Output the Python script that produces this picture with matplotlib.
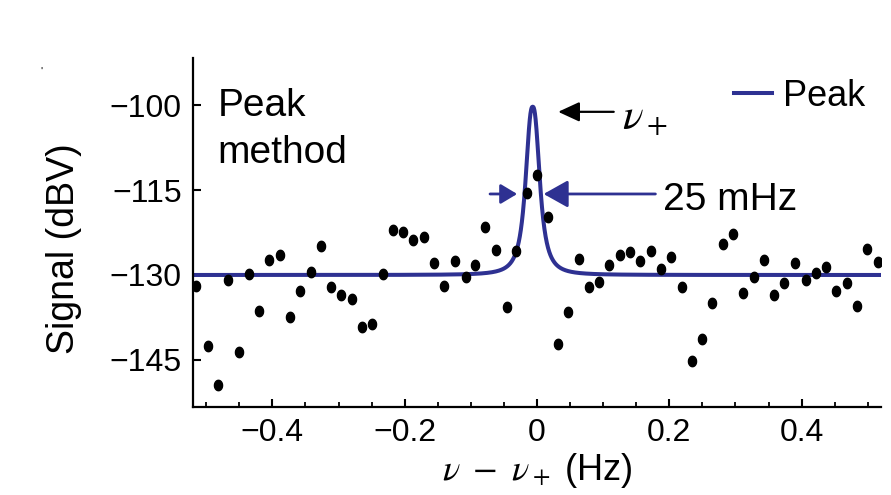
import numpy as np
import matplotlib
matplotlib.use("Agg")
import matplotlib.pyplot as plt
from matplotlib.path import Path

plt.rcParams['font.family'] = ['Liberation Sans', 'DejaVu Sans']
plt.rcParams['mathtext.fontset'] = 'stix'
plt.rcParams['axes.unicode_minus'] = True

# ---- data ----
freq_offset = [-0.516, -0.498, -0.482, -0.467, -0.451, -0.436, -0.420, -0.405, -0.389, -0.374,
               -0.358, -0.342, -0.327, -0.311, -0.296, -0.280, -0.265, -0.249, -0.233, -0.218,
               -0.202, -0.187, -0.171, -0.156, -0.140, -0.124, -0.108, -0.093, -0.078, -0.062,
               -0.046, -0.031, -0.015, 0.000, 0.016, 0.032, 0.047, 0.063, 0.079, 0.094,
               0.109, 0.125, 0.141, 0.156, 0.172, 0.188, 0.203, 0.219, 0.234, 0.250,
               0.265, 0.281, 0.296, 0.312, 0.328, 0.343, 0.359, 0.374, 0.390, 0.406,
               0.421, 0.437, 0.452, 0.468, 0.483, 0.499, 0.515]
signal_dbv = [-131.9, -142.5, -149.5, -130.9, -143.6, -129.9, -136.4, -127.4, -126.5, -137.4,
              -132.9, -129.5, -124.9, -132.1, -133.5, -134.2, -139.1, -138.7, -129.8, -122.1,
              -122.4, -123.8, -123.3, -127.8, -131.9, -127.5, -130.4, -128.2, -121.6, -125.6,
              -135.6, -125.8, -115.6, -112.4, -119.7, -142.1, -136.6, -127.1, -132.1, -131.2,
              -128.2, -126.5, -125.9, -127.6, -125.8, -128.9, -126.8, -132.2, -145.2, -141.3,
              -135.0, -124.6, -122.8, -133.1, -130.4, -127.4, -133.5, -131.4, -127.8, -130.9,
              -129.7, -128.6, -132.8, -131.4, -135.5, -125.5, -127.7]

# fitted peak parameters
peak_center = -0.0065   # Hz
peak_fwhm = 0.024       # Hz
peak_top = -100.3       # dBV
baseline = -130.0       # dBV
peak_shape = 2.5

x_ticks = [-0.4, -0.2, 0.0, 0.2, 0.4]
x_ticklabels = ['−0.4', '−0.2', '0', '0.2', '0.4']
y_ticks = [-145, -130, -115, -100]
y_ticklabels = ['−145', '−130', '−115', '−100']

line_color = '#2E3192'

fig = plt.figure(figsize=(8.91, 4.95), dpi=100)
ax = fig.add_axes([193/891, 1-407/495, 688/891, 349/495])

xf = np.linspace(-0.52, 0.52, 4001)
yf = baseline + (peak_top - baseline) / (1 + np.abs(2*(xf - peak_center)/peak_fwhm)**peak_shape)
ax.plot(xf, yf, color=line_color, lw=2.9, label='Peak', zorder=2)

# slightly tall elliptical dots
t = np.linspace(0, 2*np.pi, 40)
ell = Path(np.column_stack([0.78*np.cos(t), np.sin(t)]), closed=True)
ax.plot(freq_offset, signal_dbv, linestyle='none', marker=ell, ms=7.5,
        color='black', zorder=3)

ax.set_xlim(-0.52, 0.52)
ax.set_ylim(-153.3, -91.7)
ax.set_xticks(x_ticks)
ax.set_xticklabels(x_ticklabels)
ax.set_xticks(np.arange(-0.5, 0.51, 0.05), minor=True)
ax.set_yticks(y_ticks)
ax.set_yticklabels(y_ticklabels)

for s in ['top', 'right']:
    ax.spines[s].set_visible(False)
for s in ['left', 'bottom']:
    ax.spines[s].set_linewidth(1.6)
ax.tick_params(axis='both', which='major', direction='in', length=6, width=1.5,
               labelsize=23, pad=8)
ax.tick_params(axis='x', which='minor', direction='in', length=3.5, width=1.3)
ax.tick_params(axis='y', which='minor', left=False)

ax.set_xlabel(r'$\nu\ -\ \nu_+$ (Hz)', fontsize=26)
ax.xaxis.set_label_coords(0.5, -0.125)
ax.set_ylabel('Signal (dBV)', fontsize=27)
ax.yaxis.set_label_coords(-0.161, 0.454)

# "Peak method" label
ax.text(0.036, 0.834, 'Peak', transform=ax.transAxes, fontsize=28, va='baseline', ha='left')
ax.text(0.036, 0.698, 'method', transform=ax.transAxes, fontsize=28, va='baseline', ha='left')

# nu_+ arrow
ax.annotate('', xy=(0.032, -101.2), xytext=(0.116, -101.2),
            arrowprops=dict(arrowstyle='-|>,head_length=0.65,head_width=0.3',
                            mutation_scale=20, lw=1.6, color='black',
                            shrinkA=0, shrinkB=0))
ax.text(0.129, -102.3, r'$\nu_+$', fontsize=31, va='center', ha='left')

# 25 mHz width arrows
ax.annotate('', xy=(-0.030, -115.7), xytext=(-0.071, -115.7),
            arrowprops=dict(arrowstyle='-|>,head_length=0.5,head_width=0.3',
                            mutation_scale=20, lw=2.0, color=line_color,
                            shrinkA=0, shrinkB=0))
ax.annotate('', xy=(0.010, -115.7), xytext=(0.179, -115.7),
            arrowprops=dict(arrowstyle='-|>,head_length=0.75,head_width=0.42',
                            mutation_scale=20, lw=2.0, color=line_color,
                            shrinkA=0, shrinkB=0))
ax.text(0.190, -118.5, '25 mHz', fontsize=28, va='baseline', ha='left')

leg = ax.legend(loc='center left', bbox_to_anchor=(0.7863, 0.891), frameon=False,
                fontsize=26, handlelength=1.05, handletextpad=0.3, borderpad=0,
                borderaxespad=0)

fig.text(41/891, 1-72/495, "'", fontsize=8, ha='center', va='center')

fig.savefig('out.png', dpi=100)
